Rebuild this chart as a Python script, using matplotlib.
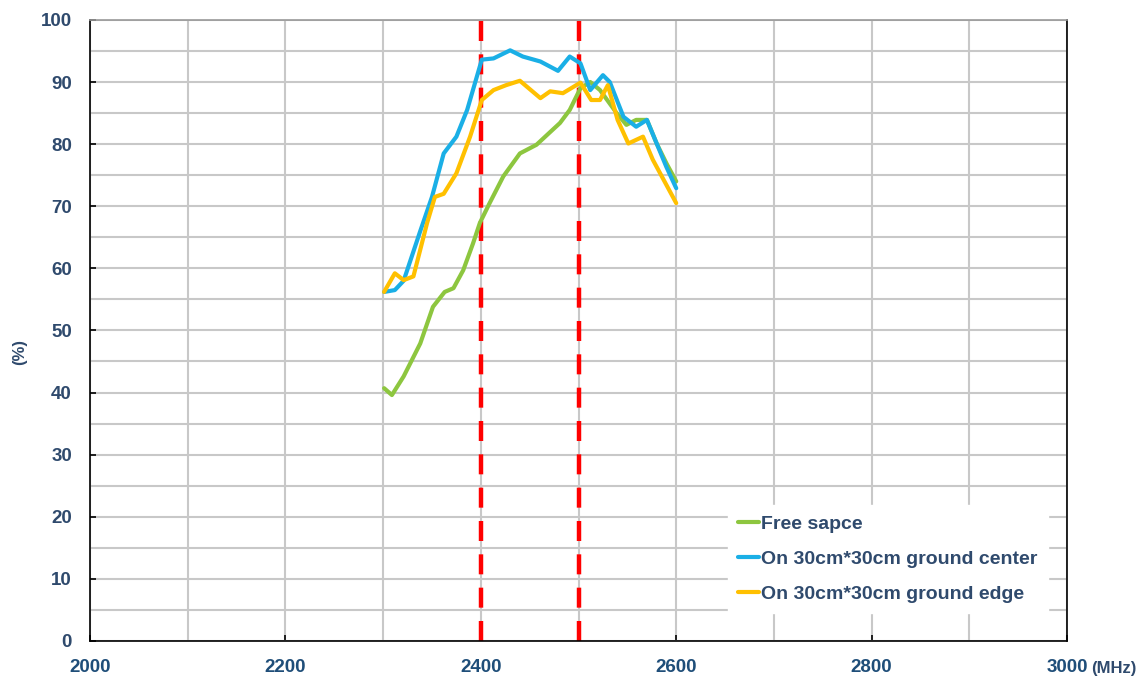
import matplotlib.pyplot as plt
from matplotlib.ticker import MultipleLocator

# frequency (MHz) / efficiency (%)
free_x = [2301, 2309, 2321, 2338, 2351, 2363, 2372, 2382, 2392, 2399, 2409, 2423, 2440,
          2457, 2470, 2481, 2491, 2502, 2512, 2522, 2539, 2549, 2559, 2570, 2580, 2590, 2600]
free_y = [40.7, 39.6, 42.6, 47.9, 53.8, 56.2, 56.8, 59.7, 64.0, 67.3, 70.5, 74.8, 78.5,
          79.9, 81.8, 83.4, 85.5, 89.0, 90.0, 88.7, 85.0, 83.1, 83.9, 83.9, 80.1, 76.9, 74.0]

center_x = [2301, 2312, 2321, 2338, 2350, 2362, 2375, 2386, 2401, 2413, 2430, 2443, 2461,
            2479, 2491, 2502, 2512, 2525, 2532, 2546, 2559, 2570, 2580, 2590, 2600]
center_y = [56.2, 56.5, 58.0, 66.0, 71.5, 78.5, 81.2, 85.5, 93.6, 93.8, 95.1, 94.1, 93.3,
            91.8, 94.1, 93.0, 88.7, 91.1, 90.0, 84.4, 82.8, 83.9, 80.1, 76.3, 72.9]

edge_x = [2301, 2312, 2321, 2331, 2345, 2353, 2362, 2375, 2389, 2401, 2413, 2426, 2440,
          2461, 2471, 2484, 2502, 2513, 2522, 2530, 2540, 2551, 2566, 2576, 2600]
edge_y = [56.2, 59.2, 58.1, 58.7, 67.3, 71.5, 72.0, 75.3, 81.2, 87.1, 88.7, 89.5, 90.2,
          87.4, 88.5, 88.2, 89.9, 87.1, 87.1, 89.5, 83.9, 80.1, 81.2, 77.5, 70.5]

band_edges = [2400, 2500]
labels = ["Free sapce", "On 30cm*30cm ground center", "On 30cm*30cm ground edge"]
colors = ["#8DC63F", "#1AAFE6", "#FFC000"]

plt.rcParams["font.family"] = ["Liberation Sans", "DejaVu Sans"]
plt.rcParams["font.weight"] = "bold"
txt = "#2F4A6D"

fig = plt.figure(figsize=(11.44, 6.84), dpi=100)
ax = fig.add_axes([0.0787, 0.0629, 0.854, 0.908])

for vx in band_edges:
    ax.plot([vx, vx], [0, 100], color="#FF0000", lw=3.2, dashes=(4.5, 3), zorder=1)

kw = dict(lw=3, solid_joinstyle="round", solid_capstyle="round")
ax.plot(free_x, free_y, color=colors[0], label=labels[0], zorder=3, **kw)
ax.plot(center_x, center_y, color=colors[1], label=labels[1], zorder=4, **kw)
ax.plot(edge_x, edge_y, color=colors[2], label=labels[2], zorder=5, **kw)

ax.set_xlim(2000, 3000)
ax.set_ylim(0, 100)
ax.xaxis.set_major_locator(MultipleLocator(200))
ax.xaxis.set_minor_locator(MultipleLocator(100))
ax.yaxis.set_major_locator(MultipleLocator(10))
ax.yaxis.set_minor_locator(MultipleLocator(5))
ax.grid(which="both", color="#C8C8C8", lw=1.5, zorder=0)
ax.set_axisbelow(True)
ax.tick_params(which="major", direction="in", length=4, width=1.2, color="black",
               labelsize=13.5, labelcolor=txt, pad=13)
ax.tick_params(which="minor", length=0)
ax.tick_params(axis="x", pad=13, labelcolor="#1F4E79")
for s in ["left", "bottom", "right"]:
    ax.spines[s].set_color("black")
    ax.spines[s].set_linewidth(1.2)
ax.spines["top"].set_color("#999999")
ax.spines["top"].set_linewidth(1.2)

ax.text(3025, -4.5, "(MHz)", fontsize=12, color=txt, ha="left", va="center")
fig.text(20 / 1144, 1 - 352 / 684, "(%)", fontsize=12, color=txt, rotation=90,
         ha="center", va="center")

leg = ax.legend(loc="lower right", bbox_to_anchor=(0.99, 0.03), fontsize=14,
                handlelength=1.1, handletextpad=0.1, frameon=True, fancybox=False,
                edgecolor="white", framealpha=1, borderpad=0.5, labelspacing=0.9)
for t in leg.get_texts():
    t.set_color(txt)

fig.savefig("out.png", dpi=100)
